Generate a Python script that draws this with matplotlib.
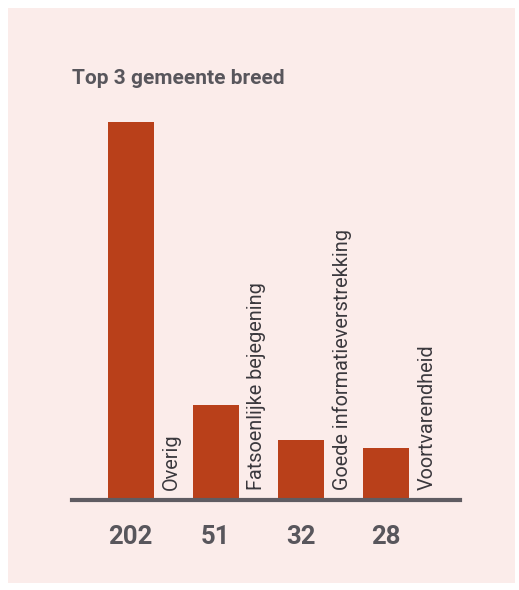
import matplotlib.pyplot as plt
from matplotlib.patches import Rectangle

# data
categories = ['Overig', 'Fatsoenlijke bejegening', 'Goede informatieverstrekking', 'Voortvarendheid']
values = [202, 51, 32, 28]
title = 'Top 3 gemeente breed'

bar_color = '#b9401a'
bg_color = '#fbecea'
text_color = '#58565c'

fig = plt.figure(figsize=(5.19, 5.90), dpi=100)
fig.patch.set_facecolor('white')
# pink panel behind the chart
fig.add_artist(Rectangle((8 / 519, 7 / 590), 507 / 519, 575 / 590,
                         transform=fig.transFigure, facecolor=bg_color,
                         edgecolor='none', zorder=0))

ax = fig.add_axes([72 / 519, 90 / 590, 388 / 519, 378 / 590])
ax.set_facecolor('none')

x = range(len(values))
width = 0.54
ax.bar(x, values, width=width, color=bar_color, zorder=2)

ax.set_xlim(-0.69, 3.87)
ax.set_ylim(0, 202)
for s in ['top', 'right', 'left']:
    ax.spines[s].set_visible(False)
ax.spines['bottom'].set_color('#5f5c62')
ax.spines['bottom'].set_linewidth(3)
ax.set_xticks([])
ax.set_yticks([])

for i, (cat, v) in enumerate(zip(categories, values)):
    ax.text(i + width / 2 + 0.1, 5.5, cat, rotation=90, ha='left', va='bottom',
            fontsize=14.3, color='#3a383d', family='Roboto', fontweight='normal')
    ax.annotate(str(v), xy=(i, 0), xytext=(0, -27), textcoords='offset points',
                ha='center', va='center', fontsize=18.5, fontweight='bold',
                color=text_color, family='Roboto')

fig.text(72 / 519, 1 - 78 / 590, title, ha='left', va='center', fontsize=15,
         fontweight='bold', color=text_color, family='Roboto')

fig.savefig('out.png', dpi=100)
